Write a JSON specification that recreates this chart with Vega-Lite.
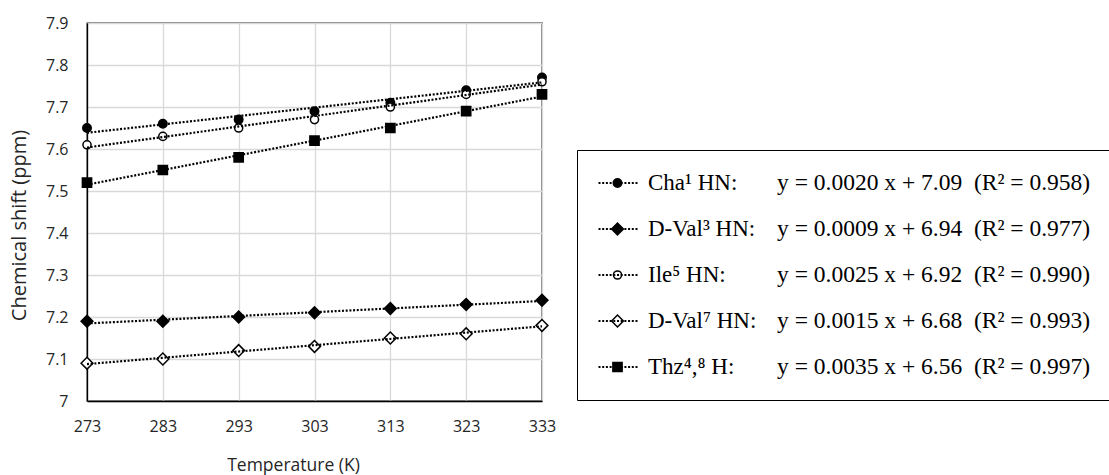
{
  "$schema": "https://vega.github.io/schema/vega-lite/v6.json",
  "width": 455,
  "height": 378,
  "autosize": {"type": "none"},
  "padding": {"left": 87, "top": 23, "right": 567, "bottom": 74},
  "background": "white",
  "config": {
    "font": "Open Sans",
    "view": {"stroke": "black", "strokeWidth": 1.3},
    "axis": {
      "labelFont": "Open Sans",
      "labelFontSize": 16,
      "labelColor": "#262626",
      "labelFlush": false,
      "titleFont": "Open Sans",
      "titleFontWeight": "normal",
      "titleColor": "#262626",
      "ticks": false,
      "domainColor": "black",
      "domainWidth": 1.3,
      "gridColor": "#d9d9d9",
      "gridWidth": 1.3
    }
  },
  "data": {
    "values": [
      {"series": "Cha¹ HN", "fit": "y = 0.0020 x + 7.09\u00a0\u00a0(R² = 0.958)", "temp": 273, "shift": 7.65},
      {"series": "Cha¹ HN", "fit": "y = 0.0020 x + 7.09\u00a0\u00a0(R² = 0.958)", "temp": 283, "shift": 7.66},
      {"series": "Cha¹ HN", "fit": "y = 0.0020 x + 7.09\u00a0\u00a0(R² = 0.958)", "temp": 293, "shift": 7.67},
      {"series": "Cha¹ HN", "fit": "y = 0.0020 x + 7.09\u00a0\u00a0(R² = 0.958)", "temp": 303, "shift": 7.69},
      {"series": "Cha¹ HN", "fit": "y = 0.0020 x + 7.09\u00a0\u00a0(R² = 0.958)", "temp": 313, "shift": 7.71},
      {"series": "Cha¹ HN", "fit": "y = 0.0020 x + 7.09\u00a0\u00a0(R² = 0.958)", "temp": 323, "shift": 7.74},
      {"series": "Cha¹ HN", "fit": "y = 0.0020 x + 7.09\u00a0\u00a0(R² = 0.958)", "temp": 333, "shift": 7.77},
      {"series": "D-Val³ HN", "fit": "y = 0.0009 x + 6.94\u00a0\u00a0(R² = 0.977)", "temp": 273, "shift": 7.19},
      {"series": "D-Val³ HN", "fit": "y = 0.0009 x + 6.94\u00a0\u00a0(R² = 0.977)", "temp": 283, "shift": 7.19},
      {"series": "D-Val³ HN", "fit": "y = 0.0009 x + 6.94\u00a0\u00a0(R² = 0.977)", "temp": 293, "shift": 7.20},
      {"series": "D-Val³ HN", "fit": "y = 0.0009 x + 6.94\u00a0\u00a0(R² = 0.977)", "temp": 303, "shift": 7.21},
      {"series": "D-Val³ HN", "fit": "y = 0.0009 x + 6.94\u00a0\u00a0(R² = 0.977)", "temp": 313, "shift": 7.22},
      {"series": "D-Val³ HN", "fit": "y = 0.0009 x + 6.94\u00a0\u00a0(R² = 0.977)", "temp": 323, "shift": 7.23},
      {"series": "D-Val³ HN", "fit": "y = 0.0009 x + 6.94\u00a0\u00a0(R² = 0.977)", "temp": 333, "shift": 7.24},
      {"series": "Ile⁵ HN", "fit": "y = 0.0025 x + 6.92\u00a0\u00a0(R² = 0.990)", "temp": 273, "shift": 7.61},
      {"series": "Ile⁵ HN", "fit": "y = 0.0025 x + 6.92\u00a0\u00a0(R² = 0.990)", "temp": 283, "shift": 7.63},
      {"series": "Ile⁵ HN", "fit": "y = 0.0025 x + 6.92\u00a0\u00a0(R² = 0.990)", "temp": 293, "shift": 7.65},
      {"series": "Ile⁵ HN", "fit": "y = 0.0025 x + 6.92\u00a0\u00a0(R² = 0.990)", "temp": 303, "shift": 7.67},
      {"series": "Ile⁵ HN", "fit": "y = 0.0025 x + 6.92\u00a0\u00a0(R² = 0.990)", "temp": 313, "shift": 7.70},
      {"series": "Ile⁵ HN", "fit": "y = 0.0025 x + 6.92\u00a0\u00a0(R² = 0.990)", "temp": 323, "shift": 7.73},
      {"series": "Ile⁵ HN", "fit": "y = 0.0025 x + 6.92\u00a0\u00a0(R² = 0.990)", "temp": 333, "shift": 7.76},
      {"series": "D-Val⁷ HN", "fit": "y = 0.0015 x + 6.68\u00a0\u00a0(R² = 0.993)", "temp": 273, "shift": 7.09},
      {"series": "D-Val⁷ HN", "fit": "y = 0.0015 x + 6.68\u00a0\u00a0(R² = 0.993)", "temp": 283, "shift": 7.10},
      {"series": "D-Val⁷ HN", "fit": "y = 0.0015 x + 6.68\u00a0\u00a0(R² = 0.993)", "temp": 293, "shift": 7.12},
      {"series": "D-Val⁷ HN", "fit": "y = 0.0015 x + 6.68\u00a0\u00a0(R² = 0.993)", "temp": 303, "shift": 7.13},
      {"series": "D-Val⁷ HN", "fit": "y = 0.0015 x + 6.68\u00a0\u00a0(R² = 0.993)", "temp": 313, "shift": 7.15},
      {"series": "D-Val⁷ HN", "fit": "y = 0.0015 x + 6.68\u00a0\u00a0(R² = 0.993)", "temp": 323, "shift": 7.16},
      {"series": "D-Val⁷ HN", "fit": "y = 0.0015 x + 6.68\u00a0\u00a0(R² = 0.993)", "temp": 333, "shift": 7.18},
      {"series": "Thz⁴,⁸ H", "fit": "y = 0.0035 x + 6.56\u00a0\u00a0(R² = 0.997)", "temp": 273, "shift": 7.52},
      {"series": "Thz⁴,⁸ H", "fit": "y = 0.0035 x + 6.56\u00a0\u00a0(R² = 0.997)", "temp": 283, "shift": 7.55},
      {"series": "Thz⁴,⁸ H", "fit": "y = 0.0035 x + 6.56\u00a0\u00a0(R² = 0.997)", "temp": 293, "shift": 7.58},
      {"series": "Thz⁴,⁸ H", "fit": "y = 0.0035 x + 6.56\u00a0\u00a0(R² = 0.997)", "temp": 303, "shift": 7.62},
      {"series": "Thz⁴,⁸ H", "fit": "y = 0.0035 x + 6.56\u00a0\u00a0(R² = 0.997)", "temp": 313, "shift": 7.65},
      {"series": "Thz⁴,⁸ H", "fit": "y = 0.0035 x + 6.56\u00a0\u00a0(R² = 0.997)", "temp": 323, "shift": 7.69},
      {"series": "Thz⁴,⁸ H", "fit": "y = 0.0035 x + 6.56\u00a0\u00a0(R² = 0.997)", "temp": 333, "shift": 7.73}
    ]
  },
  "encoding": {
    "x": {
      "field": "temp",
      "type": "quantitative",
      "scale": {"domain": [273, 333], "nice": false, "zero": false},
      "axis": {
        "values": [273, 283, 293, 303, 313, 323, 333],
        "title": "Temperature (K)",
        "titleFontSize": 17.5,
        "labelPadding": 17,
        "titleX": 206,
        "titleY": 55,
        "titleBaseline": "top",
        "titleAlign": "center"
      }
    },
    "y": {
      "field": "shift",
      "type": "quantitative",
      "scale": {"domain": [7, 7.9], "nice": false, "zero": false},
      "axis": {
        "values": [7, 7.1, 7.2, 7.3, 7.4, 7.5, 7.6, 7.7, 7.8, 7.9],
        "format": ".1~f",
        "title": "Chemical shift (ppm)",
        "titleFontSize": 20,
        "labelPadding": 19,
        "titleX": -68,
        "titleY": 202,
        "titleAngle": -90,
        "titleBaseline": "middle",
        "titleAlign": "center"
      }
    }
  },
  "layer": [
    {
      "mark": {"type": "point", "filled": false, "strokeWidth": 1.5, "opacity": 1},
      "encoding": {
        "shape": {
          "field": "series",
          "type": "nominal",
          "scale": {
            "domain": ["Cha¹ HN", "D-Val³ HN", "Ile⁵ HN", "D-Val⁷ HN", "Thz⁴,⁸ H"],
            "range": ["circle", "diamond", "circle", "diamond", "square"]
          },
          "legend": {
            "orient": "none", "legendX": 499, "legendY": 127, "title": null, "direction": "vertical",
            "labelExpr": "datum.label + ':'",
            "labelFont": "Liberation Serif", "labelFontSize": 23, "labelColor": "black", "labelLimit": 0,
            "labelOffset": 19, "clipHeight": 26, "rowPadding": 20, "padding": 20,
            "symbolStrokeWidth": 1.5, "symbolOpacity": 1
          }
        },
        "fill": {
          "field": "series",
          "type": "nominal",
          "scale": {
            "domain": ["Cha¹ HN", "D-Val³ HN", "Ile⁵ HN", "D-Val⁷ HN", "Thz⁴,⁸ H"],
            "range": ["black", "black", "white", "white", "black"]
          },
          "legend": {
            "orient": "none", "legendX": 499, "legendY": 127, "title": null, "direction": "vertical",
            "labelExpr": "datum.label + ':'",
            "labelFont": "Liberation Serif", "labelFontSize": 23, "labelColor": "black", "labelLimit": 0,
            "labelOffset": 19, "clipHeight": 26, "rowPadding": 20, "padding": 20,
            "symbolStrokeWidth": 1.5, "symbolOpacity": 1
          }
        },
        "stroke": {
          "field": "series",
          "type": "nominal",
          "scale": {
            "domain": ["Cha¹ HN", "D-Val³ HN", "Ile⁵ HN", "D-Val⁷ HN", "Thz⁴,⁸ H"],
            "range": ["black", "black", "black", "black", "black"]
          },
          "legend": {
            "orient": "none", "legendX": 499, "legendY": 127, "title": null, "direction": "vertical",
            "labelExpr": "datum.label + ':'",
            "labelFont": "Liberation Serif", "labelFontSize": 23, "labelColor": "black", "labelLimit": 0,
            "labelOffset": 19, "clipHeight": 26, "rowPadding": 20, "padding": 20,
            "symbolStrokeWidth": 1.5, "symbolOpacity": 1
          }
        },
        "size": {
          "field": "series",
          "type": "nominal",
          "scale": {
            "type": "ordinal",
            "domain": ["Cha¹ HN", "D-Val³ HN", "Ile⁵ HN", "D-Val⁷ HN", "Thz⁴,⁸ H"],
            "range": [72, 140, 66, 140, 85]
          },
          "legend": {
            "orient": "none", "legendX": 499, "legendY": 127, "title": null, "direction": "vertical",
            "labelExpr": "datum.label + ':'",
            "labelFont": "Liberation Serif", "labelFontSize": 23, "labelColor": "black", "labelLimit": 0,
            "labelOffset": 19, "clipHeight": 26, "rowPadding": 20, "padding": 20,
            "symbolStrokeWidth": 1.5, "symbolOpacity": 1
          }
        }
      }
    },
    {
      "transform": [
        {"regression": "shift", "on": "temp", "groupby": ["series", "fit"], "extent": [273, 333]}
      ],
      "mark": {"type": "line", "color": "black", "strokeWidth": 2.2},
      "encoding": {
        "strokeDash": {
          "field": "fit",
          "type": "nominal",
          "scale": {
            "domain": [
              "y = 0.0020 x + 7.09\u00a0\u00a0(R² = 0.958)",
              "y = 0.0009 x + 6.94\u00a0\u00a0(R² = 0.977)",
              "y = 0.0025 x + 6.92\u00a0\u00a0(R² = 0.990)",
              "y = 0.0015 x + 6.68\u00a0\u00a0(R² = 0.993)",
              "y = 0.0035 x + 6.56\u00a0\u00a0(R² = 0.997)"
            ],
            "range": [[2, 1.7], [2, 1.7], [2, 1.7], [2, 1.7], [2, 1.7]]
          },
          "legend": {
            "orient": "none", "legendX": 490, "legendY": 127, "title": null, "direction": "vertical",
            "symbolType": "stroke", "symbolSize": 1600, "symbolStrokeWidth": 2.2, "symbolStrokeColor": "black",
            "labelFont": "Liberation Serif", "labelFontSize": 23.5, "labelColor": "black", "labelLimit": 0,
            "labelOffset": 137, "clipHeight": 26, "rowPadding": 20, "padding": 20,
            "strokeColor": "black"
          }
        }
      }
    }
  ]
}
